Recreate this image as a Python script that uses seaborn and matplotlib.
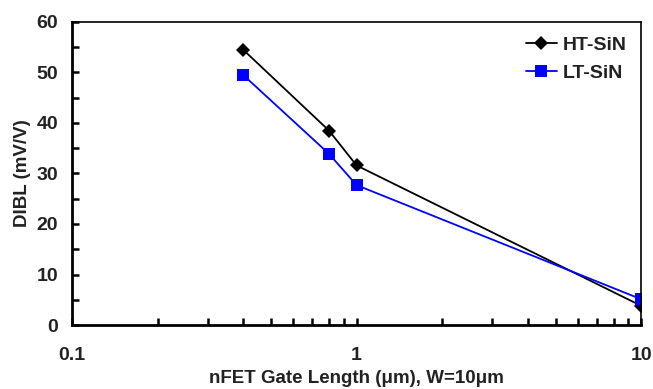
import matplotlib
matplotlib.use("Agg")
import matplotlib.pyplot as plt
import seaborn as sns
import pandas as pd
from matplotlib.ticker import LogLocator, FixedLocator, NullFormatter, MultipleLocator

gate_length = [0.4, 0.8, 1.0, 10.0]
ht_sin = [54.5, 38.5, 31.6, 3.8]
lt_sin = [49.5, 33.9, 27.7, 5.1]
series_names = ["HT-SiN", "LT-SiN"]
x_ticks = [0.1, 1, 10]
x_tick_labels = ["0.1", "1", "10"]
y_ticks = [0, 10, 20, 30, 40, 50, 60]

df = pd.DataFrame({
    "L": gate_length * 2,
    "DIBL": ht_sin + lt_sin,
    "Film": [series_names[0]] * 4 + [series_names[1]] * 4,
})

sns.set_style("white")
plt.rcParams["font.family"] = ["Liberation Sans", "DejaVu Sans"]
plt.rcParams["font.weight"] = "bold"

fig = plt.figure(figsize=(6.53, 3.89), dpi=100)
ax = fig.add_axes([0.110, 0.1645, 0.872, 0.779])

palette = {"HT-SiN": "#000000", "LT-SiN": "#0000FF"}
markers = {"HT-SiN": "D", "LT-SiN": "s"}
sns.lineplot(data=df, x="L", y="DIBL", hue="Film", style="Film",
             palette=palette, markers=markers, dashes=False,
             markersize=7, linewidth=1.3, markeredgewidth=0, ax=ax,
             estimator=None, sort=False)
for line in ax.get_lines():
    if line.get_marker() == "s":
        line.set_markersize(8.5)

ax.set_xscale("log")
ax.set_xlim(0.1, 10)
ax.set_ylim(0, 60)
ax.xaxis.set_major_locator(FixedLocator(x_ticks))
ax.set_xticklabels(x_tick_labels)
ax.xaxis.set_minor_locator(LogLocator(base=10, subs=range(2, 10)))
ax.xaxis.set_minor_formatter(NullFormatter())
ax.set_yticks(y_ticks)
ax.yaxis.set_minor_locator(MultipleLocator(5))

ax.tick_params(axis="both", which="both", direction="in", length=5, width=1.8,
               colors="#000000", labelcolor="#222222", labelsize=14,
               bottom=True, left=True, top=False, right=False)
ax.tick_params(axis="x", which="major", pad=16)
ax.tick_params(axis="y", which="major", pad=10)

for side in ["left", "bottom"]:
    ax.spines[side].set_linewidth(2)
    ax.spines[side].set_color("#000000")
for side in ["top", "right"]:
    ax.spines[side].set_linewidth(1.2)
    ax.spines[side].set_color("#000000")

for lbl in ax.get_xticklabels() + ax.get_yticklabels():
    lbl.set_fontweight("bold")

ax.set_xlabel("nFET Gate Length (\u03bcm), W=10\u03bcm", fontsize=13.5,
              fontweight="bold", color="#222222", labelpad=4)
ax.set_ylabel("DIBL (mV/V)", fontsize=13.5, fontweight="bold",
              color="#222222", labelpad=4)

leg = ax.legend(loc="upper right", frameon=False, fontsize=14,
                handlelength=1.6, handletextpad=0.3, labelspacing=0.5,
                borderaxespad=0.35)
for t in leg.get_texts():
    t.set_fontweight("bold")
    t.set_color("#222222")

fig.savefig("out.png", dpi=100, facecolor="white")
